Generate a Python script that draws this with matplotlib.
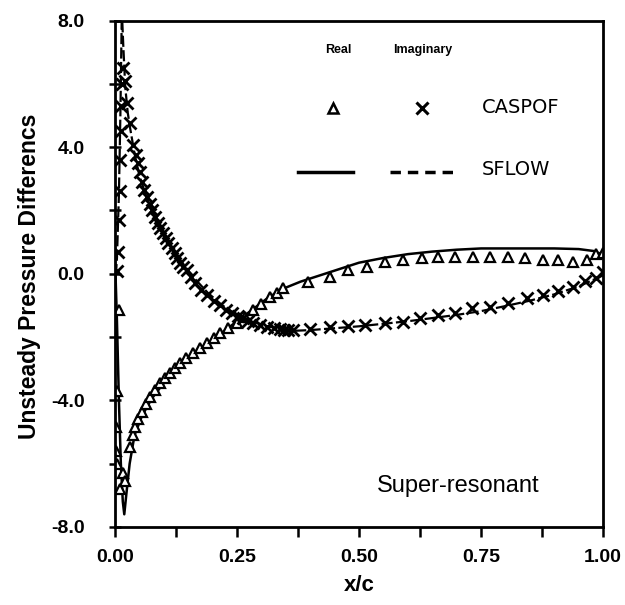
import matplotlib
matplotlib.use("Agg")
import matplotlib.pyplot as plt

plt.rcParams['font.family'] = ['Liberation Sans', 'DejaVu Sans']

# CASPOF real part (triangles)
caspof_real_x = [0.008, 0.005, 0.003, 0.002, 0.004, 0.010, 0.016, 0.021,
                 0.031, 0.036, 0.041, 0.048, 0.055, 0.063, 0.072, 0.082, 0.092,
                 0.102, 0.113, 0.123, 0.133, 0.146, 0.160, 0.174, 0.189, 0.202,
                 0.215, 0.232, 0.250, 0.266, 0.283, 0.300, 0.318, 0.331, 0.344,
                 0.395, 0.440, 0.477, 0.516,
                 0.553, 0.590, 0.629, 0.662, 0.697, 0.734, 0.768, 0.805, 0.840,
                 0.877, 0.908, 0.939, 0.967, 0.985, 1.000]
caspof_real_y = [-1.15, -3.7, -4.85, -5.6, -6.0, -6.8, -6.3, -6.55,
                 -5.47, -5.1, -4.84, -4.6, -4.37, -4.12, -3.9, -3.67, -3.45,
                 -3.3, -3.14, -2.98, -2.82, -2.66, -2.5, -2.35, -2.2, -2.03,
                 -1.87, -1.72, -1.56, -1.36, -1.15, -0.95, -0.74, -0.6, -0.46,
                 -0.27, -0.1, 0.11, 0.2,
                 0.37, 0.43, 0.49, 0.52, 0.52, 0.52, 0.52, 0.52, 0.49,
                 0.45, 0.43, 0.37, 0.45, 0.62, 0.66]

# CASPOF imaginary part (crosses)
caspof_imag_x = [0.005, 0.007, 0.009, 0.010, 0.011, 0.012, 0.013, 0.015, 0.017,
                 0.020, 0.025, 0.031, 0.037, 0.042, 0.047, 0.051, 0.055, 0.060,
                 0.066, 0.071, 0.076, 0.082, 0.088, 0.093, 0.098, 0.104, 0.109,
                 0.116, 0.123, 0.128, 0.133, 0.140, 0.148, 0.156, 0.164, 0.176,
                 0.189, 0.202, 0.215, 0.228, 0.240, 0.251, 0.262, 0.272, 0.283,
                 0.297, 0.311, 0.325, 0.338, 0.346, 0.355, 0.365,
                 0.400, 0.440, 0.477, 0.512,
                 0.553, 0.590, 0.625, 0.662, 0.697, 0.732, 0.768, 0.805, 0.844,
                 0.877, 0.908, 0.939, 0.963, 0.985, 1.000]
caspof_imag_y = [0.1, 0.7, 1.7, 2.6, 3.6, 4.5, 5.3, 6.0, 6.5,
                 6.1, 5.4, 4.75, 4.06, 3.75, 3.49, 3.2, 2.9, 2.65,
                 2.42, 2.2, 2.0, 1.8, 1.6, 1.45, 1.28, 1.12, 0.96,
                 0.8, 0.65, 0.5, 0.33, 0.22, 0.11, -0.1, -0.3, -0.5,
                 -0.68, -0.85, -1.0, -1.13, -1.25, -1.33, -1.4, -1.48, -1.56,
                 -1.62, -1.68, -1.72, -1.75, -1.77, -1.78, -1.78,
                 -1.74, -1.68, -1.65, -1.62,
                 -1.56, -1.53, -1.4, -1.3, -1.25, -1.09, -1.05, -0.93, -0.77,
                 -0.68, -0.55, -0.42, -0.23, -0.12, 0.05]

# SFLOW real part (solid)
sflow_real_x = [0.0, 0.004, 0.008, 0.012, 0.016, 0.019, 0.023, 0.03, 0.04, 0.055,
                0.075, 0.1, 0.13, 0.16, 0.19, 0.22, 0.25, 0.28, 0.31, 0.34, 0.38,
                0.42, 0.46, 0.5, 0.55, 0.6, 0.65, 0.7, 0.75, 0.8, 0.85, 0.9, 0.95,
                0.98, 1.0]
sflow_real_y = [0.5, -1.5, -4.0, -6.0, -7.2, -7.6, -7.0, -6.0, -5.1, -4.5,
                -3.95, -3.45, -2.9, -2.5, -2.2, -1.85, -1.5, -1.15, -0.8, -0.5, -0.25,
                -0.05, 0.15, 0.35, 0.5, 0.62, 0.7, 0.76, 0.8, 0.8, 0.8, 0.8, 0.78,
                0.72, 0.6]

# SFLOW imaginary part (dashed)
sflow_imag_x = [0.0, 0.004, 0.008, 0.011, 0.014, 0.017, 0.021, 0.026, 0.031, 0.04,
                0.05, 0.065, 0.08, 0.1, 0.12, 0.14, 0.16, 0.19, 0.22, 0.25, 0.28,
                0.31, 0.34, 0.37, 0.4, 0.45, 0.5, 0.55, 0.6, 0.65, 0.7, 0.75, 0.8,
                0.85, 0.9, 0.95, 1.0]
sflow_imag_y = [-0.5, 0.5, 2.5, 5.0, 8.3, 7.2, 5.9, 5.1, 4.6, 3.8,
                3.1, 2.4, 1.85, 1.25, 0.75, 0.3, -0.1, -0.6, -1.0, -1.3, -1.5,
                -1.65, -1.75, -1.8, -1.78, -1.72, -1.66, -1.58, -1.5, -1.4, -1.3, -1.18, -1.02,
                -0.85, -0.65, -0.4, -0.05]

x_ticks = [0.0, 0.25, 0.5, 0.75, 1.0]
x_labels = ['0.00', '0.25', '0.50', '0.75', '1.00']
y_ticks = [-8.0, -4.0, 0.0, 4.0, 8.0]
y_labels = ['-8.0', '-4.0', '0.0', '4.0', '8.0']

fig = plt.figure(figsize=(6.25, 6.05), dpi=100)
ax = fig.add_axes([0.184, 0.129, 0.781, 0.837])

ax.plot(sflow_real_x, sflow_real_y, color='black', lw=1.8, solid_joinstyle='round')
ax.plot(sflow_imag_x, sflow_imag_y, color='black', lw=1.6, ls=(0, (5, 1.5)))
ax.plot(caspof_real_x, caspof_real_y, ls='none', marker='^', ms=7, mfc='white',
        mec='black', mew=1.6)
ax.plot(caspof_imag_x, caspof_imag_y, ls='none', marker='x', ms=8, mec='black', mew=2)

ax.set_xlim(0, 1)
ax.set_ylim(-8, 8)
ax.set_xticks(x_ticks)
ax.set_xticklabels(x_labels)
ax.set_xticks([0.125, 0.375, 0.625, 0.875], minor=True)
ax.set_yticks(y_ticks)
ax.set_yticklabels(y_labels)
ax.set_yticks([-6, -2, 2, 6], minor=True)
for s in ax.spines.values():
    s.set_linewidth(2.0)
ax.tick_params(axis='x', which='both', direction='out', length=7, width=1.8,
               labelsize=14, pad=9)
ax.tick_params(axis='y', which='both', direction='inout', length=8, width=1.8,
               labelsize=14, pad=18)
for lab in ax.get_xticklabels() + ax.get_yticklabels():
    lab.set_fontweight('bold')

ax.set_xlabel('x/c', fontsize=16, fontweight='bold', labelpad=6)
fig.text(0.048, 0.544, 'Unsteady Pressure Differencs', rotation=90, fontsize=16.5,
         fontweight='bold', ha='center', va='center')

# legend drawn by hand, as in the original
ax.text(0.457, 7.07, 'Real', fontsize=9, fontweight='bold', ha='center', va='center')
ax.text(0.631, 7.07, 'Imaginary', fontsize=9, fontweight='bold', ha='center', va='center')
ax.plot([0.447], [5.24], ls='none', marker='^', ms=7, mfc='white', mec='black', mew=1.8)
ax.plot([0.629], [5.24], ls='none', marker='x', ms=8, mec='black', mew=2.2)
ax.text(0.752, 5.24, 'CASPOF', fontsize=14, ha='left', va='center', family='DejaVu Sans')
ax.plot([0.375, 0.488], [3.22, 3.22], color='black', lw=2.5)
ax.plot([0.564, 0.697], [3.22, 3.22], color='black', lw=2.5, ls=(0, (3, 2)))
ax.text(0.752, 3.28, 'SFLOW', fontsize=14, ha='left', va='center', family='DejaVu Sans')

ax.text(0.703, -6.72, 'Super-resonant', fontsize=17, ha='center', va='center')

fig.savefig('out.png', dpi=100)
